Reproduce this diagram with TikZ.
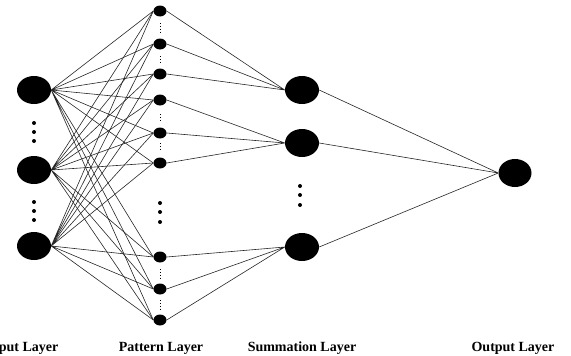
\documentclass[tikz,border=0pt]{standalone}
\usepackage{fontspec}
\setmainfont{Liberation Serif}
\usetikzlibrary{shapes.geometric}
\tikzset{
	bignode/.style={ellipse, fill=black, minimum width=34pt, minimum height=28pt, inner sep=0pt},
	smallnode/.style={ellipse, fill=black, minimum width=13pt, minimum height=11pt, inner sep=0pt},
	link/.style={line width=0.6pt, black!85},
	gapdots/.style={dotted, line width=0.9pt},
	layerlabel/.style={font=\fontsize{14}{16}\selectfont\bfseries}
}
\begin{document}
\begin{tikzpicture}[x=1pt, y=-1pt]
    \useasboundingbox (0,0) rectangle (571,356);
	\node[bignode] (i1) at (34, 90) {};
	\node[bignode] (i2) at (34, 170) {};
	\node[bignode] (i3) at (34, 246) {};
	\node[smallnode] (p1) at (160, 11) {};
	\node[smallnode] (p2) at (160, 44) {};
	\node[smallnode] (p3) at (160, 74) {};
	\node[smallnode] (p4) at (160, 100) {};
	\node[smallnode] (p5) at (160, 133) {};
	\node[smallnode] (p6) at (160, 163) {};
	\node[smallnode] (p7) at (160, 257) {};
	\node[smallnode] (p8) at (160, 289) {};
	\node[smallnode] (p9) at (160, 320) {};
	\node[bignode] (s1) at (302, 90) {};
	\node[bignode] (s2) at (302, 143) {};
	\node[bignode] (s3) at (302, 247) {};
	\node[bignode, minimum width=33pt] (o) at (515, 173) {};
	\draw[link] (i1.east) -- (p1.west) (i1.east) -- (p2.west) (i1.east) -- (p3.west);
	\draw[link] (i1.east) -- (p4.west) (i1.east) -- (p5.west) (i1.east) -- (p6.west);
	\draw[link] (i1.east) -- (p7.west) (i1.east) -- (p8.west) (i1.east) -- (p9.west);
	\draw[link] (i2.east) -- (p1.west) (i2.east) -- (p2.west) (i2.east) -- (p3.west);
	\draw[link] (i2.east) -- (p4.west) (i2.east) -- (p5.west) (i2.east) -- (p6.west);
	\draw[link] (i2.east) -- (p7.west) (i2.east) -- (p8.west) (i2.east) -- (p9.west);
	\draw[link] (i3.east) -- (p1.west) (i3.east) -- (p2.west) (i3.east) -- (p3.west);
	\draw[link] (i3.east) -- (p4.west) (i3.east) -- (p5.west) (i3.east) -- (p6.west);
	\draw[link] (i3.east) -- (p7.west) (i3.east) -- (p8.west) (i3.east) -- (p9.west);
	\draw[link] (p1.east) -- (s1.west) (p2.east) -- (s1.west) (p3.east) -- (s1.west);
	\draw[link] (p4.east) -- (s2.west) (p5.east) -- (s2.west) (p6.east) -- (s2.west);
	\draw[link] (p7.east) -- (s3.west) (p8.east) -- (s3.west) (p9.east) -- (s3.west);
	\draw[link] (s1.east) -- (o.west) (s2.east) -- (o.west) (s3.east) -- (o.west);
	\fill (34, 123) circle (2) (34, 132) circle (2) (34, 141) circle (2);
	\fill (34, 202) circle (2) (34, 211) circle (2) (34, 220) circle (2);
	\fill (160, 203) circle (2) (160, 212) circle (2) (160, 222) circle (2);
	\fill (300, 186) circle (2) (300, 195) circle (2) (300, 205) circle (2);
	\draw[gapdots] (160, 23) -- (160, 34);
	\draw[gapdots] (160, 56) -- (160, 64);
	\draw[gapdots] (160, 114) -- (160, 122);
	\draw[gapdots] (160, 143) -- (160, 151);
	\draw[gapdots] (160, 269) -- (160, 278);
	\draw[gapdots] (160, 300) -- (160, 309);
	\node[layerlabel] (lin) at (22, 348) {Input Layer};
	\node[layerlabel] (lpat) at (161, 348) {Pattern Layer};
	\node[layerlabel] (lsum) at (302, 348) {Summation Layer};
	\node[layerlabel] (lout) at (513, 348) {Output Layer};
\end{tikzpicture}
\end{document}
